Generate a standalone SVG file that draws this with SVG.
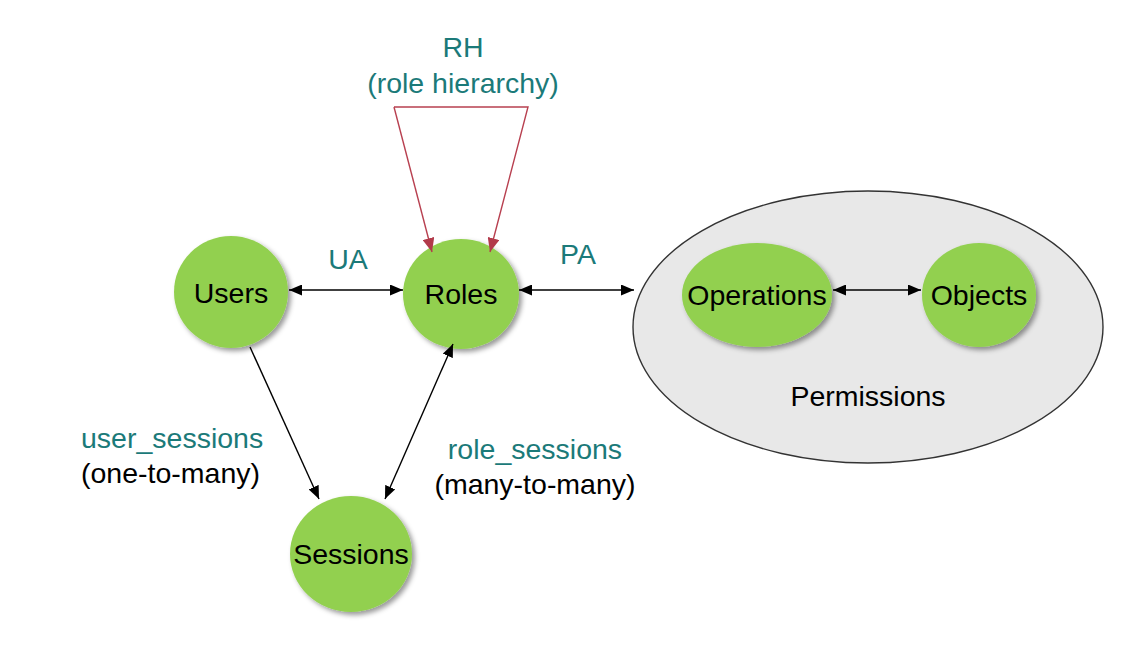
<svg xmlns="http://www.w3.org/2000/svg" width="1132" height="646" viewBox="0 0 1132 646">
<defs>
<style>
text{font-family:"Liberation Sans",Arial,sans-serif;font-size:28.5px}
.node{fill:#92d050;filter:url(#sh)}
.lbl{fill:#000;text-anchor:middle}
.teal{fill:#1b7a79}
.blk{fill:#000}
.c{stroke:#000;stroke-width:1.4;fill:none}
.rh{stroke:#b84050;stroke-width:1.4;fill:none}
</style>
<filter id="sh" x="-20%" y="-20%" width="150%" height="150%">
<feDropShadow dx="3" dy="3" stdDeviation="2.5" flood-color="#000" flood-opacity="0.4"/>
</filter>
<marker id="a" viewBox="0 0 13 11" refX="13" refY="5.5" markerWidth="13" markerHeight="11" markerUnits="userSpaceOnUse" orient="auto-start-reverse">
<path d="M0,0 L13,5.5 L0,11 Z" fill="#000"/>
</marker>
<marker id="ar" viewBox="0 0 14 12" refX="14" refY="6" markerWidth="14" markerHeight="12" markerUnits="userSpaceOnUse" orient="auto">
<path d="M0,0 L14,6 L0,12 Z" fill="#b23a4a"/>
</marker>
</defs>
<rect width="1132" height="646" fill="#fff"/>

<g id="permissions">
<ellipse cx="868" cy="327" rx="235" ry="136" fill="#e8e8e8" stroke="#333" stroke-width="1.4"/>
<text x="868" y="406" class="lbl">Permissions</text>
</g>

<g id="users">
<ellipse class="node" cx="231" cy="292" rx="57" ry="56"/>
<text x="231" y="303" class="lbl">Users</text>
</g>
<g id="roles">
<ellipse class="node" cx="461" cy="294" rx="58" ry="55"/>
<text x="461" y="304" class="lbl">Roles</text>
</g>
<g id="sessions">
<ellipse class="node" cx="351" cy="554" rx="61" ry="58"/>
<text x="351" y="564" class="lbl">Sessions</text>
</g>
<g id="operations">
<ellipse class="node" cx="757" cy="295" rx="75" ry="52"/>
<text x="757" y="305" class="lbl">Operations</text>
</g>
<g id="objects">
<ellipse class="node" cx="979" cy="295" rx="57" ry="52"/>
<text x="979" y="305" class="lbl">Objects</text>
</g>

<g id="connectors">
<line class="c" x1="289" y1="290" x2="403" y2="290" marker-start="url(#a)" marker-end="url(#a)"/>
<line class="c" x1="519" y1="290" x2="634" y2="290" marker-start="url(#a)" marker-end="url(#a)"/>
<line class="c" x1="833" y1="290" x2="921" y2="290" marker-start="url(#a)" marker-end="url(#a)"/>
<line class="c" x1="250" y1="347" x2="319" y2="499" marker-end="url(#a)"/>
<line class="c" x1="453" y1="344" x2="385" y2="499" marker-start="url(#a)" marker-end="url(#a)"/>
<path class="rh" d="M394,107 L528,107 L490,252" marker-end="url(#ar)"/>
<line class="rh" x1="394" y1="107" x2="432" y2="252" marker-end="url(#ar)"/>
</g>

<g id="labels">
<text x="463" y="57" class="lbl teal">RH</text>
<text x="463" y="93" class="lbl teal">(role hierarchy)</text>
<text x="348" y="269" class="lbl teal">UA</text>
<text x="578" y="264" class="lbl teal">PA</text>
<text x="81" y="448" class="teal">user_sessions</text>
<text x="81" y="483" class="blk">(one-to-many)</text>
<text x="535" y="459" class="lbl teal">role_sessions</text>
<text x="535" y="494" class="lbl">(many-to-many)</text>
</g>
</svg>
